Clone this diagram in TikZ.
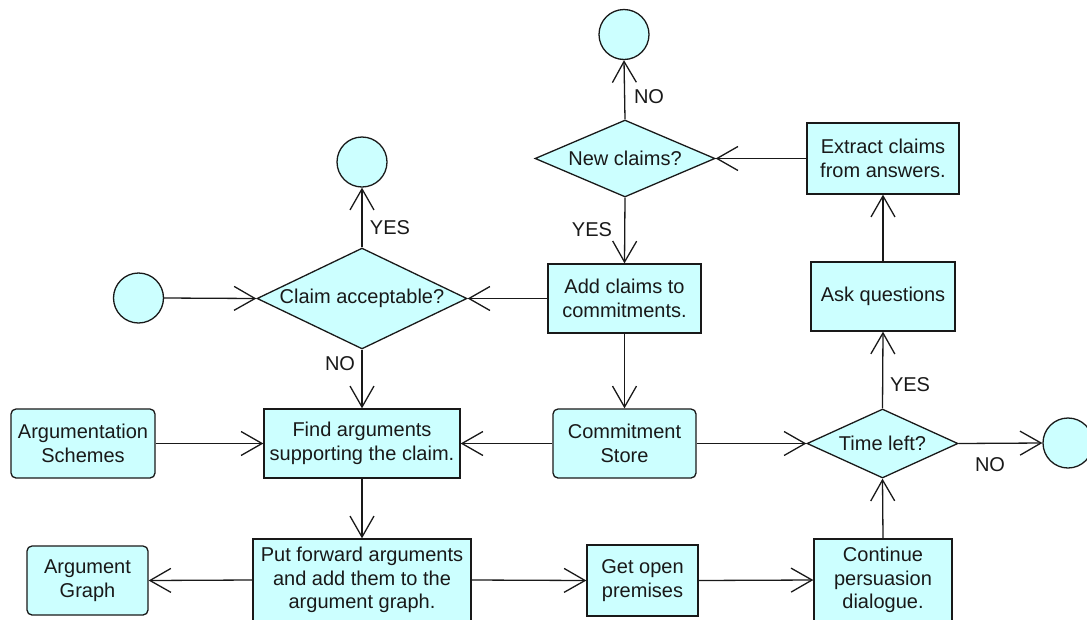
\documentclass[tikz,border=0pt]{standalone}
\usepackage{fontspec}
\setmainfont{Liberation Sans}
\usetikzlibrary{shapes.geometric,arrows.meta}
\definecolor{boxfill}{RGB}{204,255,255}
\definecolor{ink}{RGB}{25,25,25}
\begin{document}
\begin{tikzpicture}[x=1pt,y=-1pt,
  every node/.style={font=\fontsize{20}{23.5}\selectfont, text=ink, inner sep=0pt, align=center},
  procbox/.style={draw=ink, line width=1.3pt, fill=boxfill},
  storebox/.style={procbox, rounded corners=5pt},
  decision/.style={draw=ink, line width=1.3pt, fill=boxfill, diamond, aspect=2},
  endpoint/.style={draw=ink, line width=1.3pt, fill=boxfill, circle, minimum size=50pt},
  lbl/.style={font=\fontsize{20}{22}\selectfont},
  flow/.style={draw=ink, line width=1.3pt, -{Straight Barb[length=21pt,width=24pt,line width=1.3pt]}}
]
\useasboundingbox (0,0) rectangle (1087,619);
% nodes
\node[endpoint] (start) at (138.5,298) {};
\node[decision, minimum width=210pt, minimum height=97pt] (claim) at (362,298.5) {Claim acceptable?};
\node[endpoint] (endA) at (362,162) {};
\node[procbox, minimum width=153pt, minimum height=69pt] (add) at (624.5,298.5) {Add claims to\\commitments.};
\node[decision, minimum width=180pt, minimum height=77pt] (newc) at (625,158.5) {New claims?};
\node[endpoint] (endB) at (624,34.5) {};
\node[procbox, minimum width=152pt, minimum height=71pt] (extract) at (883,158.5) {Extract claims\\from answers.};
\node[procbox, minimum width=144pt, minimum height=69pt] (ask) at (883,296.5) {Ask questions};
\node[decision, minimum width=151pt, minimum height=69pt] (time) at (882.5,443.5) {Time left?};
\node[endpoint] (endC) at (1068,443) {};
\node[storebox, minimum width=143pt, minimum height=69pt] (store) at (624.5,443.5) {Commitment\\Store};
\node[procbox, minimum width=196pt, minimum height=69pt] (find) at (362,443.5) {Find arguments\\supporting the claim.};
\node[storebox, minimum width=144pt, minimum height=69pt] (schemes) at (83,443.5) {Argumentation\\Schemes};
\node[procbox, minimum width=218pt, minimum height=82pt] (put) at (362,580) {Put forward arguments\\and add them to the\\argument graph.};
\node[storebox, minimum width=121pt, minimum height=69pt] (graph) at (87.5,580.5) {Argument\\Graph};
\node[procbox, minimum width=111pt, minimum height=71pt] (open) at (642.5,580.5) {Get open\\premises};
\node[procbox, minimum width=138pt, minimum height=82pt] (cont) at (883,580) {Continue\\persuasion\\dialogue.};
% labels
\node[lbl] (yesA) at (390,228) {YES};
\node[lbl] (noA) at (340,364) {NO};
\node[lbl] (noB) at (649,97) {NO};
\node[lbl] (yesB) at (592,230) {YES};
\node[lbl] (yesC) at (910,385) {YES};
\node[lbl] (noC) at (990,465) {NO};
% connectors
\draw[flow] (start.east) -- (claim.west);
\draw[flow] (claim.north) -- (endA.south);
\draw[flow] (claim.south) -- (find.north);
\draw[flow] (add.west) -- (claim.east);
\draw[flow] (newc.north) -- (endB.south);
\draw[flow] (newc.south) -- (add.north);
\draw[flow] (extract.west) -- (newc.east);
\draw[flow] (ask.north) -- (extract.south);
\draw[flow] (time.north) -- (ask.south);
\draw[flow] (time.east) -- (endC.west);
\draw[flow] (add.south) -- (store.north);
\draw[flow] (store.west) -- (find.east);
\draw[flow] (store.east) -- (time.west);
\draw[flow] (schemes.east) -- (find.west);
\draw[flow] (find.south) -- (put.north);
\draw[flow] (put.west) -- (graph.east);
\draw[flow] (put.east) -- (open.west);
\draw[flow] (open.east) -- (cont.west);
\draw[flow] (cont.north) -- (time.south);
\end{tikzpicture}
\end{document}
